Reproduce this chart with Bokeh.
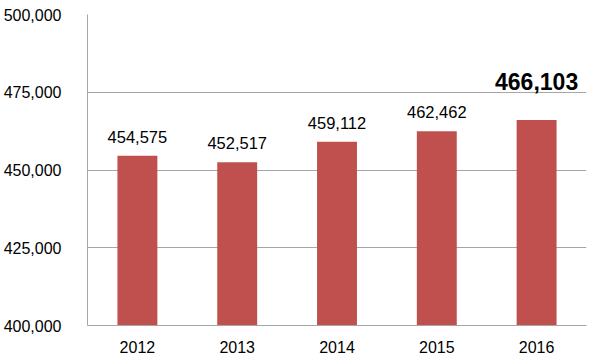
from bokeh.plotting import figure
from bokeh.models import ColumnDataSource, FixedTicker, NumeralTickFormatter
from bokeh.core.properties import value
from bokeh.embed import file_html
from bokeh.resources import INLINE

years = ["2012", "2013", "2014", "2015", "2016"]
counts = [454575, 452517, 459112, 462462, 466103]
labels = ["454,575", "452,517", "459,112", "462,462", "466,103"]
y_ticks = [400000, 425000, 450000, 475000, 500000]

src = ColumnDataSource(dict(x=years, top=counts, label=labels))
src_main = ColumnDataSource(dict(x=years[:-1], top=counts[:-1], label=labels[:-1]))
src_last = ColumnDataSource(dict(x=years[-1:], top=counts[-1:], label=labels[-1:]))

p = figure(width=588, height=355, x_range=years, y_range=(400000, 500000),
           output_backend="svg", toolbar_location=None,
           min_border_left=10, min_border_right=2, min_border_top=14, min_border_bottom=0)
p.outline_line_color = None
p.background_fill_color = "white"

p.vbar(x="x", top="top", bottom=400000, width=0.4, source=src,
       fill_color="#C0504D", line_color=None)

p.text(x="x", y="top", text="label", source=src_main, text_align="center",
       text_baseline="bottom", y_offset=-13, text_font=value("Liberation Sans"),
       text_font_size="16.5px", text_color="black")
p.text(x="x", y="top", text="label", source=src_last, text_align="center",
       text_baseline="bottom", y_offset=-30, text_font=value("Liberation Sans"),
       text_font_size="23px", text_font_style="bold", text_color="black")

p.yaxis.ticker = FixedTicker(ticks=y_ticks)
p.yaxis.formatter = NumeralTickFormatter(format="0,0")
p.ygrid.ticker = FixedTicker(ticks=y_ticks)
p.ygrid.grid_line_color = "#A6A6A6"
p.xgrid.grid_line_color = None

for ax in (p.xaxis[0], p.yaxis[0]):
    ax.axis_line_color = "#A6A6A6"
    ax.major_tick_line_color = None
    ax.minor_tick_line_color = None
    ax.major_label_text_font = "Liberation Sans"
    ax.major_label_text_font_size = "16px"
    ax.major_label_text_color = "black"
p.yaxis.major_label_standoff = 20
p.xaxis.major_label_standoff = 9

open("out.html", "w").write(file_html(p, INLINE))
